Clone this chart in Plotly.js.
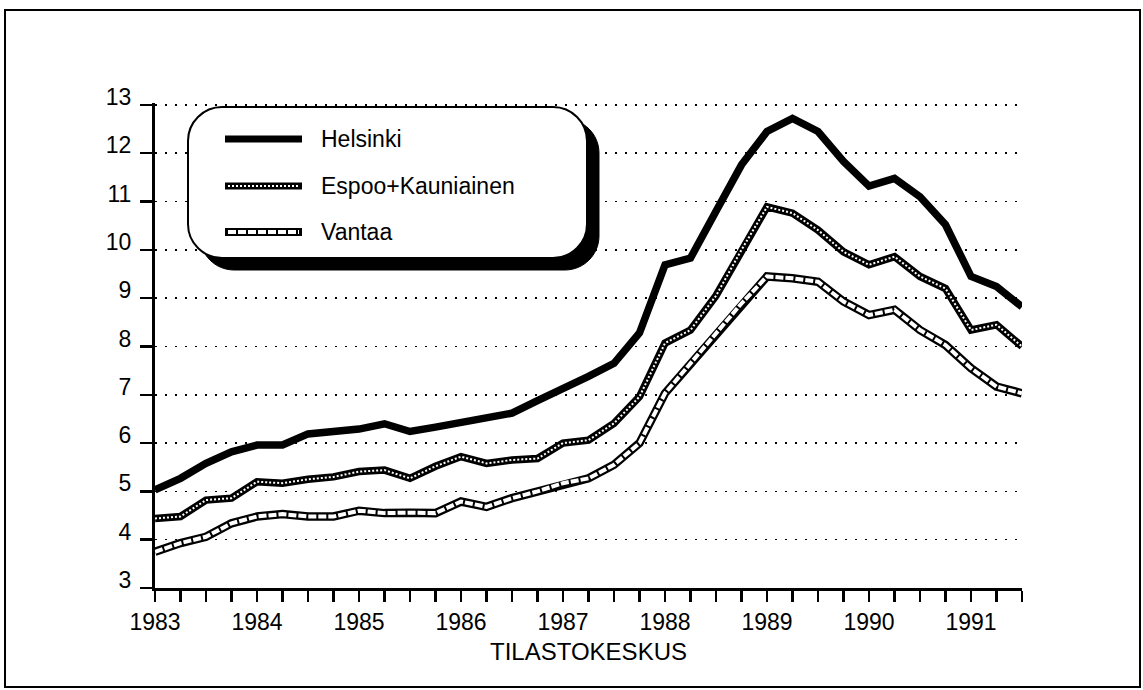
<!DOCTYPE html>
<html>
<head>
<meta charset="utf-8">
<script src="https://cdn.plot.ly/plotly-3.0.1.min.js"></script>
<style>
  html, body { margin: 0; padding: 0; background: #fff; }
  #chart { width: 1143px; height: 690px; }
</style>
</head>
<body>
<div id="chart"></div>
<script>
// Quarterly periods (1983 Q1 .. 1991 Q3), expressed as decimal years
const periods = [
  1983.00, 1983.25, 1983.50, 1983.75,
  1984.00, 1984.25, 1984.50, 1984.75,
  1985.00, 1985.25, 1985.50, 1985.75,
  1986.00, 1986.25, 1986.50, 1986.75,
  1987.00, 1987.25, 1987.50, 1987.75,
  1988.00, 1988.25, 1988.50, 1988.75,
  1989.00, 1989.25, 1989.50, 1989.75,
  1990.00, 1990.25, 1990.50, 1990.75,
  1991.00, 1991.25, 1991.50
];

const helsinki = [
  5.03, 5.27, 5.58, 5.82,
  5.96, 5.96, 6.19, 6.25,
  6.29, 6.40, 6.24, 6.33,
  6.42, 6.51, 6.62, 6.88,
  7.12, 7.38, 7.65, 8.28,
  9.69, 9.83, 10.80, 11.76,
  12.45, 12.72, 12.45, 11.83,
  11.32, 11.48, 11.10, 10.52,
  9.45, 9.24, 8.82
];

const espoo = [
  4.44, 4.48, 4.82, 4.86,
  5.20, 5.17, 5.25, 5.30,
  5.41, 5.44, 5.27, 5.52,
  5.72, 5.58, 5.65, 5.68,
  6.00, 6.06, 6.41, 6.96,
  8.07, 8.34, 9.05, 10.00,
  10.89, 10.76, 10.41, 9.96,
  9.69, 9.86, 9.45, 9.20,
  8.34, 8.45, 8.00
];

const vantaa = [
  3.75, 3.93, 4.06, 4.34,
  4.48, 4.53, 4.48, 4.48,
  4.60, 4.55, 4.56, 4.55,
  4.79, 4.68, 4.86, 5.00,
  5.17, 5.27, 5.55, 6.00,
  7.03, 7.65, 8.27, 8.89,
  9.45, 9.41, 9.34, 8.93,
  8.65, 8.76, 8.34, 8.03,
  7.55, 7.17, 7.03
];

const seriesNames = ["Helsinki", "Espoo+Kauniainen", "Vantaa"];

const tickVals = periods;
const tickText = [
  "1983", "", "", "",
  "1984", "", "", "",
  "1985", "", "", "",
  "1986", "", "", "",
  "1987", "", "", "",
  "1988", "", "", "",
  "1989", "", "", "",
  "1990", "", "", "",
  "1991", "", ""
];

const yTickVals = [3, 4, 5, 6, 7, 8, 9, 10, 11, 12, 13];

const xTitle = "TILASTOKESKUS";

// ---- layout geometry ----
const W = 1143, H = 690;
const M = { l: 155, r: 121, t: 103, b: 102 };
const PW = W - M.l - M.r, PH = H - M.t - M.b;
const px = v => (v - M.l) / PW;
const py = v => (H - M.b - v) / PH;
const FONT = '"Liberation Sans", Arial, Helvetica, sans-serif';

function roundRectPath(x0, y0, x1, y1, r) {
  const k = 0.5523 * r;
  const P = (x, y) => px(x).toFixed(5) + ',' + py(y).toFixed(5);
  return 'M' + P(x0 + r, y0) +
    ' L' + P(x1 - r, y0) +
    ' C' + P(x1 - r + k, y0) + ' ' + P(x1, y0 + r - k) + ' ' + P(x1, y0 + r) +
    ' L' + P(x1, y1 - r) +
    ' C' + P(x1, y1 - r + k) + ' ' + P(x1 - r + k, y1) + ' ' + P(x1 - r, y1) +
    ' L' + P(x0 + r, y1) +
    ' C' + P(x0 + r - k, y1) + ' ' + P(x0, y1 - r + k) + ' ' + P(x0, y1 - r) +
    ' L' + P(x0, y0 + r) +
    ' C' + P(x0, y0 + r - k) + ' ' + P(x0 + r - k, y0) + ' ' + P(x0 + r, y0) + ' Z';
}

const traces = [
  // Vantaa: black outline with white dashed core
  { x: periods, y: vantaa, mode: 'lines', name: seriesNames[2], showlegend: false,
    line: { color: '#000', width: 8.5 }, hoverinfo: 'skip' },
  { x: periods, y: vantaa, mode: 'lines', name: seriesNames[2], showlegend: false,
    line: { color: '#fff', width: 4, dash: '8px,2px' } },
  // Espoo: black outline with white dotted core
  { x: periods, y: espoo, mode: 'lines', name: seriesNames[1], showlegend: false,
    line: { color: '#000', width: 7.5 }, hoverinfo: 'skip' },
  { x: periods, y: espoo, mode: 'lines', name: seriesNames[1], showlegend: false,
    line: { color: '#fff', width: 2, dash: '2px,2px' } },
  // Helsinki: solid thick black
  { x: periods, y: helsinki, mode: 'lines', name: seriesNames[0], showlegend: false,
    line: { color: '#000', width: 7.5 } }
];

// Legend box geometry (pixels)
const LB = { x0: 188, y0: 107, x1: 587, y1: 258, r: 34, sh: 12 };
const legY = [139, 186, 232];
const sampX0 = 225, sampX1 = 302, textX = 321;

const shapes = [
  // outer frame
  { type: 'rect', xref: 'paper', yref: 'paper', x0: px(5), x1: px(1140), y0: py(687), y1: py(10),
    line: { color: '#000', width: 2 }, fillcolor: 'rgba(0,0,0,0)', layer: 'below' },
  // legend shadow
  { type: 'path', xref: 'paper', yref: 'paper',
    path: roundRectPath(LB.x0 + LB.sh, LB.y0 + LB.sh, LB.x1 + LB.sh, LB.y1 + LB.sh, LB.r),
    fillcolor: '#000', line: { color: '#000', width: 1 }, layer: 'above' },
  // legend box
  { type: 'path', xref: 'paper', yref: 'paper',
    path: roundRectPath(LB.x0, LB.y0, LB.x1, LB.y1, LB.r),
    fillcolor: '#fff', line: { color: '#000', width: 2 }, layer: 'above' },
  // legend samples
  { type: 'line', xref: 'paper', yref: 'paper', x0: px(sampX0), x1: px(sampX1), y0: py(legY[0]), y1: py(legY[0]),
    line: { color: '#000', width: 7 }, layer: 'above' },
  { type: 'line', xref: 'paper', yref: 'paper', x0: px(sampX0), x1: px(sampX1), y0: py(legY[1]), y1: py(legY[1]),
    line: { color: '#000', width: 7 }, layer: 'above' },
  { type: 'line', xref: 'paper', yref: 'paper', x0: px(sampX0 + 3), x1: px(sampX1 - 3), y0: py(legY[1]), y1: py(legY[1]),
    line: { color: '#fff', width: 2, dash: '2px,2px' }, layer: 'above' },
  { type: 'line', xref: 'paper', yref: 'paper', x0: px(sampX0), x1: px(sampX1), y0: py(legY[2]), y1: py(legY[2]),
    line: { color: '#000', width: 8 }, layer: 'above' },
  { type: 'line', xref: 'paper', yref: 'paper', x0: px(sampX0 + 3), x1: px(sampX1 - 3), y0: py(legY[2]), y1: py(legY[2]),
    line: { color: '#fff', width: 4, dash: '8px,2px' }, layer: 'above' }
];

const annotations = seriesNames.map((n, i) => ({
  xref: 'paper', yref: 'paper', x: px(textX - 2), y: py(legY[i]),
  xanchor: 'left', yanchor: 'middle', showarrow: false, text: n,
  font: { family: FONT, size: 23, color: '#000' }
}));

const layout = {
  width: W, height: H,
  margin: M,
  paper_bgcolor: '#fff', plot_bgcolor: '#fff',
  showlegend: false,
  font: { family: FONT, size: 23, color: '#000' },
  xaxis: {
    range: [1983, 1991.5],
    tickmode: 'array', tickvals: tickVals, ticktext: tickText,
    ticks: 'outside', ticklen: 11, tickwidth: 2.5, tickcolor: '#000',
    showline: true, linecolor: '#000', linewidth: 3,
    showgrid: false, zeroline: false,
    tickfont: { family: FONT, size: 23, color: '#000' },
    ticklabelstandoff: 0,
    title: { text: xTitle, font: { family: FONT, size: 24, color: '#000' }, standoff: 10 },
    fixedrange: true
  },
  yaxis: {
    range: [3, 13.04], tickmode: 'array', tickvals: yTickVals,
    ticks: 'outside', ticklen: 12, tickwidth: 2.5, tickcolor: '#000',
    showline: true, linecolor: '#000', linewidth: 3,
    showgrid: true, gridcolor: '#000', gridwidth: 1.6, griddash: '2px,8px',
    zeroline: false,
    tickfont: { family: FONT, size: 23, color: '#000' },
    ticklabelshift: -8, ticklabelstandoff: 4,
    fixedrange: true
  },
  shapes: shapes,
  annotations: annotations
};

Plotly.newPlot('chart', traces, layout, { displayModeBar: false, staticPlot: true });
</script>
</body>
</html>
